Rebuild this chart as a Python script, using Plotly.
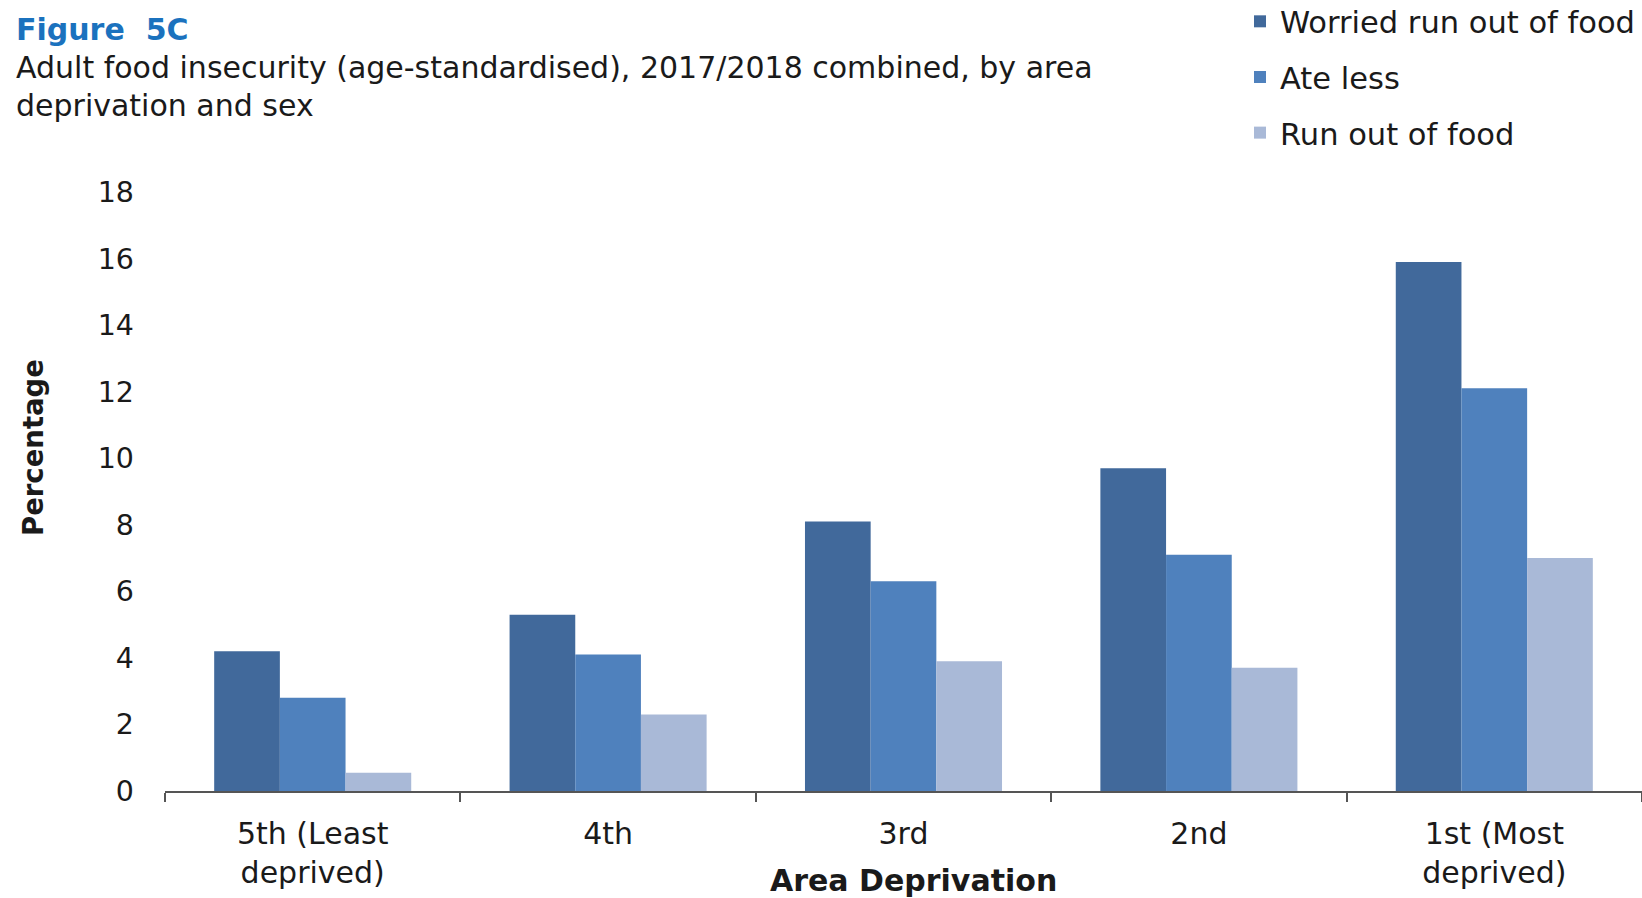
import plotly.graph_objects as go

categories = ["5th (Least<br>deprived)", "4th", "3rd", "2nd", "1st (Most<br>deprived)"]
worried = [4.2, 5.3, 8.1, 9.7, 15.9]
ate_less = [2.8, 4.1, 6.3, 7.1, 12.1]
run_out = [0.55, 2.3, 3.9, 3.7, 7.0]
series_names = ["Worried run out of food", "Ate less", "Run out of food"]
y_ticks = [0, 2, 4, 6, 8, 10, 12, 14, 16, 18]

W, H = 1642, 898
L, R, T, B = 165, 0, 192, 107
PW, PH = W - L - R, H - T - B

def px(x):
    return (x - L) / PW

def py(y):
    return (H - B - y) / PH

FONT = "DejaVu Sans"
colors = ["#41699b", "#4f81bd", "#a9b9d7"]

fig = go.Figure()
for i, (name, vals) in enumerate(zip(series_names, [worried, ate_less, run_out])):
    fig.add_trace(go.Bar(x=categories, y=vals, name=name, marker_color=colors[i],
                         marker_line_width=0, legendgroup=f"g{i}"))

fig.update_layout(
    width=W, height=H,
    margin=dict(l=L, r=R, t=T, b=B, autoexpand=False),
    paper_bgcolor="white", plot_bgcolor="white",
    barmode="group", bargap=0.333, bargroupgap=0,
    font=dict(family=FONT, color="#1a1a1a"),
    showlegend=True,
    legend=dict(xref="paper", yref="paper", x=px(1240), y=py(-5),
                xanchor="left", yanchor="top", font=dict(size=30.5, family=FONT, color="#1a1a1a"),
                traceorder="grouped", tracegroupgap=13, bgcolor="rgba(0,0,0,0)"),
    xaxis=dict(type="category", showline=True, linecolor="#555555", linewidth=2,
               ticks="outside", tickson="boundaries", ticklen=9, tickcolor="#555555", tickwidth=2,
               tickfont=dict(size=30, family=FONT, color="#1a1a1a"), showgrid=False,
               ticklabelstandoff=15),
    yaxis=dict(range=[0, 18], tickvals=y_ticks, showgrid=False, showline=False, ticks="",
               zeroline=False, tickfont=dict(size=28.5, family=FONT, color="#1a1a1a"),
               ticklabelstandoff=30),
)

ann = [
    dict(text="<b>Figure  5C</b>", x=px(14), y=py(29), xanchor="left", yanchor="middle",
         font=dict(size=30, color="#1b72be", family=FONT)),
    dict(text="Adult food insecurity (age-standardised), 2017/2018 combined, by area",
         x=px(14), y=py(68), xanchor="left", yanchor="middle",
         font=dict(size=30, color="#1a1a1a", family=FONT)),
    dict(text="deprivation and sex", x=px(14), y=py(106), xanchor="left", yanchor="middle",
         font=dict(size=30, color="#1a1a1a", family=FONT)),
    dict(text="<b>Percentage</b>", x=px(33), y=py(448), xanchor="center", yanchor="middle",
         textangle=-90, font=dict(size=27.5, color="#1a1a1a", family=FONT)),
    dict(text="<b>Area Deprivation</b>", x=px(913), y=py(880), xanchor="center", yanchor="middle",
         font=dict(size=30, color="#1a1a1a", family=FONT)),
]
for a in ann:
    a.update(xref="paper", yref="paper", showarrow=False)
    fig.add_annotation(**a)

fig.write_html("out.html", config={"displayModeBar": False},
               post_script="document.body.style.margin='0';document.body.style.overflow='hidden';")
